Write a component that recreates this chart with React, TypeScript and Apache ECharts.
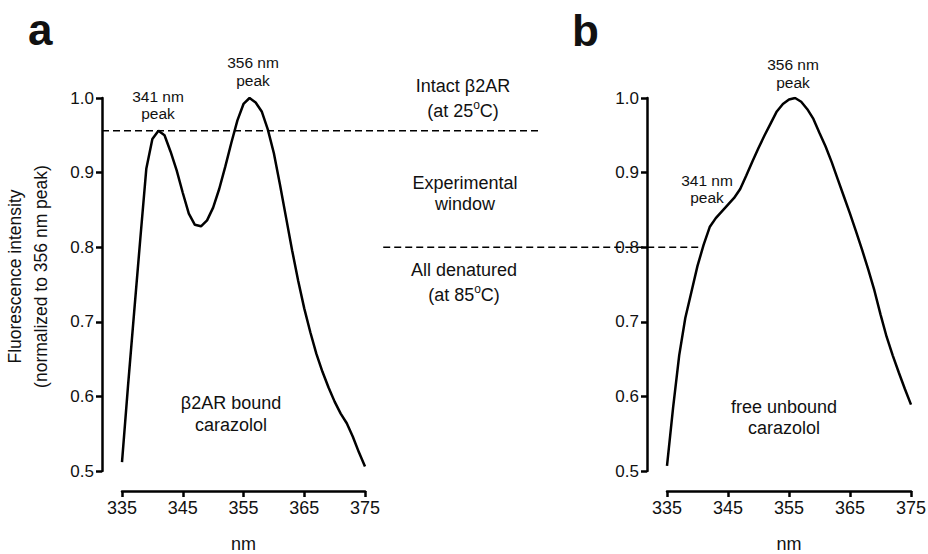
import React, { useEffect, useRef } from "react";
import * as echarts from "echarts";

// ---- data ----
const wavelengths = [
  335, 336, 337, 338, 339, 340, 341, 342, 343, 344, 345, 346, 347, 348, 349, 350,
  351, 352, 353, 354, 355, 356, 357, 358, 359, 360, 361, 362, 363, 364, 365, 366,
  367, 368, 369, 370, 371, 372, 373, 374, 375,
];
// panel a: beta2AR bound carazolol
const boundValues = [
  0.512, 0.615, 0.713, 0.81, 0.905, 0.945, 0.956, 0.95, 0.928, 0.903, 0.873, 0.845,
  0.83, 0.828, 0.836, 0.853, 0.878, 0.908, 0.94, 0.97, 0.992, 1.0, 0.994, 0.982,
  0.958, 0.926, 0.884, 0.84, 0.796, 0.755, 0.718, 0.686, 0.657, 0.633, 0.612, 0.593,
  0.577, 0.564, 0.546, 0.525, 0.506,
];
// panel b: free unbound carazolol
const freeValues = [
  0.507, 0.585, 0.655, 0.705, 0.74, 0.775, 0.803, 0.827, 0.839, 0.848, 0.857, 0.866,
  0.878, 0.896, 0.915, 0.933, 0.95, 0.966, 0.982, 0.992, 0.998, 1.0, 0.995, 0.985,
  0.972, 0.953, 0.935, 0.914, 0.891, 0.868, 0.845, 0.821, 0.796, 0.77, 0.742, 0.71,
  0.68, 0.655, 0.632, 0.61, 0.589,
];
const xMin = 335;
const xMax = 375;
const xStep = 10;
const yMin = 0.5;
const yMax = 1.0;
const yStep = 0.1;

// reference levels
const intactLevel = 0.956; // 341 nm peak of bound carazolol
const denaturedLevel = 0.8;
const intactLineEndNm = 404; // in panel-a nm units
const denaturedLineStartNm = 378; // in panel-a nm units
const denaturedLineEndNm = 341; // in panel-b nm units (where curve crosses 0.8)

// ---- layout / style ----
const FONT = "'Liberation Sans', Arial, Helvetica, sans-serif";
const INK = "#111";
const Y_OFFSET = 20;
const X_OFFSET = 20;

function axisX(gridIndex: number, withName: boolean) {
  return {
    type: "value",
    gridIndex,
    min: xMin,
    max: xMax,
    interval: xStep,
    offset: X_OFFSET,
    axisLine: { show: true, onZero: false, lineStyle: { color: "#000", width: 2.5 } },
    axisTick: { show: true, length: 6, lineStyle: { color: "#000", width: 2.5 } },
    axisLabel: { color: INK, fontSize: 18, fontFamily: FONT, margin: 8 },
    splitLine: { show: false },
    name: withName ? "nm" : "",
    nameLocation: "middle",
    nameGap: 44,
    nameTextStyle: { color: INK, fontSize: 18, fontFamily: FONT },
  };
}

function axisY(gridIndex: number, name: string) {
  return {
    type: "value",
    gridIndex,
    min: yMin,
    max: yMax,
    interval: yStep,
    offset: Y_OFFSET,
    axisLine: { show: true, onZero: false, lineStyle: { color: "#000", width: 2.5 } },
    axisTick: { show: true, length: 6, lineStyle: { color: "#000", width: 2.5 } },
    axisLabel: {
      color: INK,
      fontSize: 17,
      fontFamily: FONT,
      margin: 8,
      formatter: (v: number) => v.toFixed(1),
    },
    splitLine: { show: false },
    name,
    nameLocation: "middle",
    nameRotate: 90,
    nameGap: 48,
    nameTextStyle: {
      color: INK,
      fontSize: 17.5,
      fontFamily: FONT,
      lineHeight: 26,
      padding: [0, 0, 0, 16],
    },
  };
}

function text(x: number, y: number, str: string, size: number, extra: any = {}) {
  return {
    type: "text",
    x,
    y,
    silent: true,
    style: {
      text: str,
      font: `${extra.bold ? "bold " : ""}${size}px ${FONT}`,
      fill: INK,
      align: extra.align || "center",
      verticalAlign: "middle",
      textAlign: extra.align || "center",
      textVerticalAlign: "middle",
      lineHeight: extra.lineHeight || size + 3,
      rich: extra.rich,
    },
  };
}

const supRich = {
  sup: { fontSize: 12, lineHeight: 10, verticalAlign: "top", fontFamily: FONT, fill: INK },
};

export default function App() {
  const ref = useRef<HTMLDivElement>(null);

  useEffect(() => {
    document.body.style.margin = "0";
    const chart = echarts.init(ref.current!, null, { renderer: "svg" });
    const toPairs = (vals: number[]) => wavelengths.map((w, i) => [w, vals[i]]);

    chart.setOption({
      animation: false,
      backgroundColor: "#fff",
      grid: [
        {
          left: 122,
          top: 98,
          width: 243,
          height: 373,
          containLabel: false,
          outerBoundsMode: "none",
        },
        {
          left: 667,
          top: 98,
          width: 244,
          height: 373,
          containLabel: false,
          outerBoundsMode: "none",
        },
      ],
      xAxis: [axisX(0, true), axisX(1, true)],
      yAxis: [
        axisY(0, "Fluorescence intensity\n(normalized to 356 nm peak)"),
        axisY(1, ""),
      ],
      series: [
        {
          type: "line",
          name: "β2AR bound carazolol",
          xAxisIndex: 0,
          yAxisIndex: 0,
          data: toPairs(boundValues),
          showSymbol: false,
          symbol: "none",
          lineStyle: { color: "#000", width: 2.5 },
          z: 3,
        },
        {
          type: "line",
          name: "free unbound carazolol",
          xAxisIndex: 1,
          yAxisIndex: 1,
          data: toPairs(freeValues),
          showSymbol: false,
          symbol: "none",
          lineStyle: { color: "#000", width: 2.5 },
          z: 3,
        },
      ],
    });

    const p = (g: number, x: number, y: number) =>
      chart.convertToPixel({ gridIndex: g } as any, [x, y]) as number[];

    const upStart = p(0, xMin, intactLevel);
    const upEnd = p(0, intactLineEndNm, intactLevel);
    const lowStart = p(0, denaturedLineStartNm, denaturedLevel);
    const lowEnd = p(1, denaturedLineEndNm, denaturedLevel);
    const dashStyle = { stroke: "#000", lineWidth: 1.5, lineDash: [7, 4] };

    chart.setOption({
      graphic: [
        {
          type: "line",
          silent: true,
          z: 1,
          shape: { x1: upStart[0] - Y_OFFSET, y1: upStart[1], x2: upEnd[0], y2: upEnd[1] },
          style: dashStyle,
        },
        {
          type: "line",
          silent: true,
          z: 1,
          shape: { x1: lowStart[0], y1: lowStart[1], x2: lowEnd[0], y2: lowEnd[1] },
          style: dashStyle,
        },
        // panel letters
        text(28, 29, "a", 44, { bold: true, align: "left" }),
        text(572, 30, "b", 44, { bold: true, align: "left" }),
        // panel a annotations
        text(158, 96, "341 nm", 15.5),
        text(158, 113, "peak", 15.5),
        text(253, 62, "356 nm", 15.5),
        text(253, 80, "peak", 15.5),
        text(231, 403, "β2AR bound", 18),
        text(231, 425, "carazolol", 18),
        // middle annotations
        text(463, 86, "Intact β2AR", 18),
        text(463, 111, "(at 25{sup|o}C)", 18, { rich: supRich, lineHeight: 24 }),
        text(465, 183, "Experimental", 18),
        text(465, 204, "window", 18),
        text(464, 270, "All denatured", 18),
        text(464, 295, "(at 85{sup|o}C)", 18, { rich: supRich, lineHeight: 24 }),
        // panel b annotations
        text(707, 180, "341 nm", 15.5),
        text(707, 197, "peak", 15.5),
        text(793, 64, "356 nm", 15.5),
        text(793, 82, "peak", 15.5),
        text(784, 407, "free unbound", 18),
        text(784, 428, "carazolol", 18),
      ],
    });

    return () => chart.dispose();
  }, []);

  return <div ref={ref} style={{ width: 928, height: 554 }} />;
}
